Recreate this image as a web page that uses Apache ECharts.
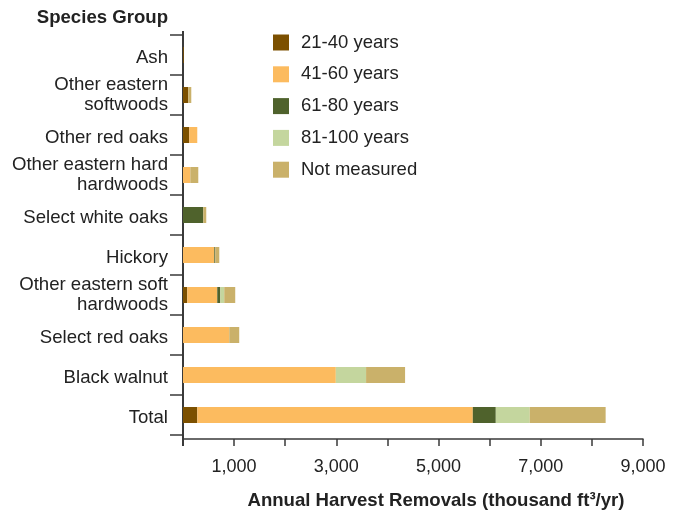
<!DOCTYPE html>
<html>
<head>
<meta charset="utf-8">
<script src="https://cdn.jsdelivr.net/npm/echarts@6/dist/echarts.min.js"></script>
<style>
  html, body { margin: 0; padding: 0; background: #fff; }
  #chart { width: 680px; height: 512px; }
</style>
</head>
<body>
<div id="chart"></div>
<script>
// Species groups, listed bottom to top
const categories = [
  'Total',
  'Black walnut',
  'Select red oaks',
  'Other eastern soft\nhardwoods',
  'Hickory',
  'Select white oaks',
  'Other eastern hard\nhardwoods',
  'Other red oaks',
  'Other eastern\nsoftwoods',
  'Ash'
];

// Annual harvest removals (thousand ft³/yr) by stand age class
const age21to40   = [280, 0, 0, 84, 0, 0, 0, 123, 104, 15];
const age41to60   = [5390, 2990, 905, 586, 612, 0, 143, 156, 0, 0];
const age61to80   = [450, 0, 0, 59, 20, 397, 0, 0, 0, 0];
const age81to100  = [664, 592, 0, 78, 0, 0, 0, 0, 0, 0];
const notMeasured = [1485, 763, 195, 215, 78, 58, 156, 0, 58, 0];

const xTicks = [0, 9000, 1000];

const seriesDefs = [
  { name: '21-40 years',  data: age21to40,   color: '#7c5000' },
  { name: '41-60 years',  data: age41to60,   color: '#fcbb5f' },
  { name: '61-80 years',  data: age61to80,   color: '#4f622c' },
  { name: '81-100 years', data: age81to100,  color: '#c4d69e' },
  { name: 'Not measured', data: notMeasured, color: '#cab16a' }
];

const FONT = '"Liberation Sans", Arial, Helvetica, sans-serif';
const AXIS = '#3a3a3a';
const TEXT = '#222';
const FS = 18.6;

// Category labels: single-line names sit a little lower than the bar centre
function categoryLabel(v) {
  if (v.indexOf('\n') >= 0) {
    return v.split('\n').map(l => '{m|' + l + '}').join('\n');
  }
  return '{s|' + v + '}';
}

const chart = echarts.init(document.getElementById('chart'), null, { renderer: 'canvas' });

chart.setOption({
  animation: false,
  textStyle: { fontFamily: FONT },
  legend: {
    orient: 'vertical',
    left: 273,
    top: 33,
    padding: 0,
    itemWidth: 16,
    itemHeight: 16,
    itemGap: 12.8,
    icon: 'rect',
    textStyle: { fontFamily: FONT, fontSize: 18.5, color: TEXT, padding: [0, 0, 0, 7] },
    data: seriesDefs.map(s => s.name)
  },
  grid: { left: 183, right: 37, top: 35, bottom: 77, containLabel: false, outerBoundsMode: 'none' },
  xAxis: {
    type: 'value',
    min: xTicks[0],
    max: xTicks[1],
    interval: xTicks[2],
    offset: 4,
    name: 'Annual Harvest Removals (thousand ft³/yr)',
    nameLocation: 'middle',
    nameGap: 52,
    nameTextStyle: { fontFamily: FONT, fontSize: FS, fontWeight: 'bold', color: TEXT, padding: [0, 0, 0, 46] },
    axisLine: { show: true, onZero: false, lineStyle: { color: AXIS, width: 1.5 } },
    axisTick: { show: true, length: 7, lineStyle: { color: AXIS, width: 1.5 } },
    axisLabel: {
      margin: 19,
      fontFamily: FONT,
      fontSize: 18,
      color: TEXT,
      formatter: v => (v % 2000 === 1000 ? v.toLocaleString('en-US') : '')
    },
    splitLine: { show: false }
  },
  yAxis: {
    type: 'category',
    data: categories,
    name: 'Species Group',
    nameLocation: 'end',
    nameGap: 8,
    nameTextStyle: { fontFamily: FONT, fontSize: FS, fontWeight: 'bold', color: TEXT, align: 'right', padding: [0, 15, 0, 0] },
    axisLine: { show: true, onZero: false, lineStyle: { color: AXIS, width: 2 } },
    axisTick: { show: true, length: 13, lineStyle: { color: AXIS, width: 1.5 } },
    axisLabel: {
      margin: 15,
      fontFamily: FONT,
      fontSize: FS,
      color: TEXT,
      lineHeight: 20,
      formatter: categoryLabel,
      rich: {
        s: { fontFamily: FONT, fontSize: FS, color: TEXT, lineHeight: 20, padding: [6, 0, 0, 0] },
        m: { fontFamily: FONT, fontSize: FS, color: TEXT, lineHeight: 20 }
      }
    }
  },
  graphic: [
    // short extensions of the vertical axis line past the plot area
    { type: 'line', shape: { x1: 183, y1: 31, x2: 183, y2: 35 }, style: { stroke: AXIS, lineWidth: 2 } },
    { type: 'line', shape: { x1: 183, y1: 435, x2: 183, y2: 446 }, style: { stroke: AXIS, lineWidth: 2 } }
  ],
  series: seriesDefs.map(s => ({
    name: s.name,
    type: 'bar',
    stack: 'total',
    barWidth: 16,
    data: s.data,
    itemStyle: { color: s.color },
    emphasis: { disabled: true }
  }))
});
</script>
</body>
</html>
